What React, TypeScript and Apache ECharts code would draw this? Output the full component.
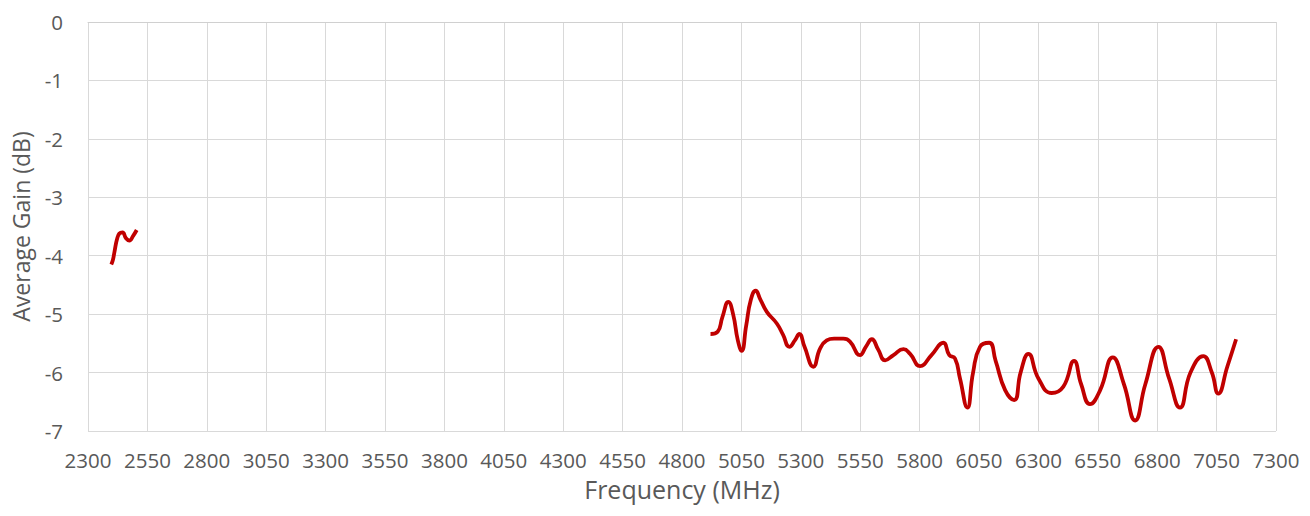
import React, { useEffect, useRef } from "react";
import * as echarts from "echarts";

const lowBandFreq = [2398, 2405, 2412, 2422, 2432, 2445, 2460, 2474, 2490, 2505];
const lowBandGain = [-4.15, -4.07, -3.92, -3.72, -3.62, -3.6, -3.7, -3.74, -3.66, -3.56];

const highBandFreq = [
  4920, 4950, 4970, 4995, 5015, 5035, 5051, 5070, 5090, 5110, 5130, 5157, 5199, 5225, 5252,
  5275, 5294, 5315, 5353, 5380, 5409, 5440, 5479, 5507, 5549, 5575, 5599, 5625, 5655, 5690,
  5732, 5760, 5802, 5850, 5900, 5925, 5949, 5970, 6001, 6025, 6054, 6093, 6120, 6160, 6198,
  6225, 6258, 6300, 6356, 6405, 6450, 6480, 6517, 6560, 6613, 6660, 6707, 6750, 6805, 6850,
  6896, 6940, 6994, 7030, 7057, 7095, 7132,
];
const highBandGain = [
  -5.34, -5.3, -5.05, -4.79, -5.0, -5.45, -5.63, -5.2, -4.75, -4.6, -4.75, -4.96, -5.16, -5.35, -5.56,
  -5.45, -5.34, -5.55, -5.9, -5.6, -5.45, -5.42, -5.42, -5.47, -5.7, -5.55, -5.43, -5.6, -5.79, -5.7,
  -5.6, -5.68, -5.89, -5.7, -5.49, -5.7, -5.76, -6.1, -6.6, -6.0, -5.56, -5.49, -5.8, -6.3, -6.47,
  -6.0, -5.68, -6.1, -6.35, -6.24, -5.8, -6.2, -6.54, -6.3, -5.74, -6.2, -6.82, -6.2, -5.56, -6.1,
  -6.6, -6.0, -5.72, -6.0, -6.36, -5.9, -5.43,
];

const xMin = 2300;
const xMax = 7300;
const xStep = 250;
const yMin = -7;
const yMax = 0;
const yStep = 1;

const xTitle = "Frequency (MHz)";
const yTitle = "Average Gain (dB)";

export default function App() {
  const ref = useRef<HTMLDivElement>(null);
  useEffect(() => {
    if (!ref.current) return;
    const chart = echarts.init(ref.current, undefined, { renderer: "svg" });
    const font = "'Open Sans', sans-serif";
    const lineColor = "#C00000";
    chart.setOption({
      animation: false,
      backgroundColor: "#ffffff",
      grid: { left: 88, top: 22, right: 34, bottom: 85, containLabel: false },
      xAxis: {
        type: "value",
        min: xMin,
        max: xMax,
        interval: xStep,
        name: xTitle,
        nameLocation: "middle",
        nameGap: 45,
        nameTextStyle: { fontFamily: font, fontSize: 25, color: "#595959" },
        axisLine: { show: true, lineStyle: { color: "#d0d0d0", width: 1 } },
        axisTick: { show: false },
        axisLabel: {
          fontFamily: font,
          fontSize: 20.5,
          color: "#595959",
          margin: 18,
          formatter: (v: number) => String(v),
        },
        splitLine: { show: true, lineStyle: { color: "#d9d9d9", width: 1 } },
      },
      yAxis: {
        type: "value",
        min: yMin,
        max: yMax,
        interval: yStep,
        name: yTitle,
        nameLocation: "middle",
        nameRotate: 90,
        nameGap: 56,
        nameTextStyle: { fontFamily: font, fontSize: 23, color: "#595959" },
        axisLine: { show: false },
        axisTick: { show: false },
        axisLabel: { fontFamily: font, fontSize: 20.5, color: "#595959", margin: 25 },
        splitLine: { show: true, lineStyle: { color: "#d9d9d9", width: 1 } },
      },
      series: [
        {
          type: "line",
          data: lowBandFreq.map((f, i) => [f, lowBandGain[i]]),
          smooth: 0.5,
          showSymbol: false,
          lineStyle: { color: lineColor, width: 3.8 },
        },
        {
          type: "line",
          data: highBandFreq.map((f, i) => [f, highBandGain[i]]),
          smooth: 0.5,
          showSymbol: false,
          lineStyle: { color: lineColor, width: 3.8 },
        },
      ],
    });
    return () => chart.dispose();
  }, []);
  return (
    <div
      ref={ref}
      style={{ position: "fixed", left: 0, top: 0, width: 1310, height: 516 }}
    />
  );
}
